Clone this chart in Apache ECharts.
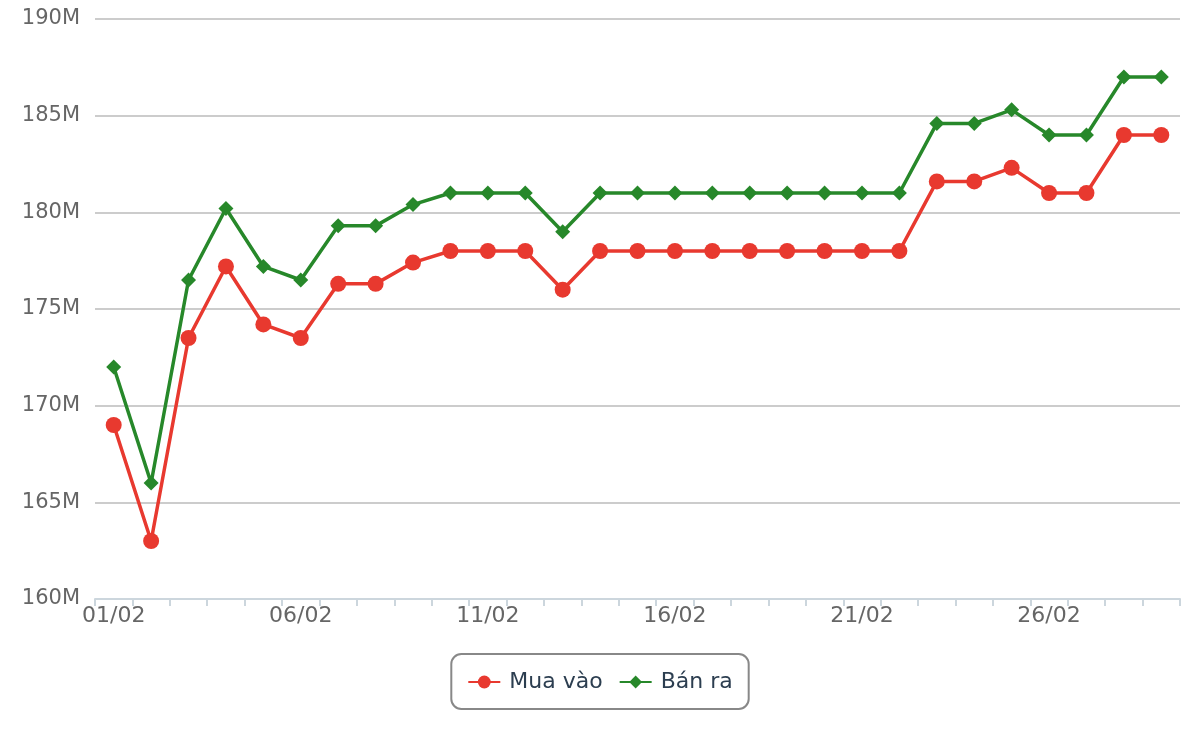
<!DOCTYPE html>
<html><head><meta charset="utf-8">
<script src="https://cdn.jsdelivr.net/npm/echarts@6/dist/echarts.min.js"></script>
<style>html,body{margin:0;padding:0;background:#fff}#c{width:1200px;height:740px}</style>
</head><body><div id="c"></div>
<script>
const categories = ['01/02','02/02','03/02','04/02','05/02','06/02','07/02','08/02','09/02','10/02','11/02','12/02','13/02','14/02','15/02','16/02','17/02','18/02','19/02','20/02','21/02','22/02','23/02','24/02','25/02','26/02','27/02','28/02','29/02'];
const muaVao = [169,163,173.5,177.2,174.2,173.5,176.3,176.3,177.4,178,178,178,176,178,178,178,178,178,178,178,178,178,181.6,181.6,182.3,181,181,184,184];
const banRa = [172,166,176.5,180.2,177.2,176.5,179.3,179.3,180.4,181,181,181,179,181,181,181,181,181,181,181,181,181,184.6,184.6,185.3,184,184,187,187];
const yTicks = {min:160, max:190, interval:5};

const chart = echarts.init(document.getElementById('c'));
chart.setOption({
  animation:false,
  textStyle:{fontFamily:'DejaVu Sans'},
  grid:{left:95,right:20,top:19,bottom:141},
  legend:{
    bottom:31, left:'center',
    data:['Mua vào','Bán ra'],
    borderColor:'#888', borderWidth:2, borderRadius:10,
    padding:[17,16,16,16],
    itemWidth:32, itemHeight:16, itemGap:16,
    textStyle:{fontSize:22,color:'#2c3e50',fontFamily:'DejaVu Sans',padding:[0,0,0,4]}
  },
  xAxis:{
    type:'category', data:categories, boundaryGap:true,
    axisLine:{lineStyle:{color:'#ccd6dd',width:2}},
    axisTick:{show:true,interval:0,length:7,lineStyle:{color:'#ccd6dd',width:2}},
    axisLabel:{interval:4,color:'#666',fontSize:22,margin:6}
  },
  yAxis:{
    type:'value', min:yTicks.min, max:yTicks.max, interval:yTicks.interval,
    axisLine:{show:false}, axisTick:{show:false},
    axisLabel:{color:'#666',fontSize:21,margin:15,formatter:v=>v+'M'},
    splitLine:{lineStyle:{color:'#bbb',width:1.5}}
  },
  series:[
    {name:'Mua vào',type:'line',data:muaVao,symbol:'circle',symbolSize:16,
     itemStyle:{color:'#e8392f'},lineStyle:{width:3.5,color:'#e8392f'}},
    {name:'Bán ra',type:'line',data:banRa,symbol:'diamond',symbolSize:15,
     itemStyle:{color:'#27882a'},lineStyle:{width:3.5,color:'#27882a'}}
  ]
});
</script></body></html>
